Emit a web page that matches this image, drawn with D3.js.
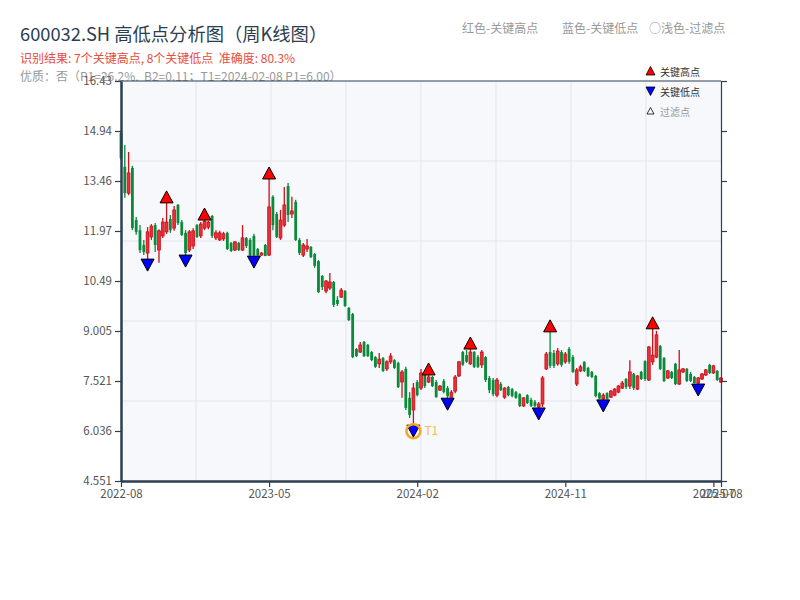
<!DOCTYPE html>
<html>
<head>
<meta charset="utf-8">
<script src="https://cdn.jsdelivr.net/npm/d3@7"></script>
<style>
  body {margin: 0; background: #fff;}
  text {font-family: "Noto Sans CJK SC", "Noto Sans", sans-serif;}
</style>
</head>
<body>
<div class="chartWrap"></div>
<script>
//Data - weekly candles
const opens = [14.89,13.88,13.10,13.85,12.30,12.00,11.56,11.32,11.80,12.15,11.41,11.83,11.95,12.33,12.06,12.75,12.24,11.92,11.41,11.53,
  12.15,11.83,12.06,12.09,12.42,11.77,11.71,11.74,11.92,11.62,11.41,11.62,11.41,11.77,11.71,11.83,11.44,11.26,11.56,11.26,
  12.99,12.48,11.77,12.15,13.31,12.48,12.84,11.71,11.26,11.44,11.50,11.29,11.08,10.64,10.19,10.28,10.46,9.93,10.01,10.19,
  9.69,9.51,8.47,8.38,8.68,8.59,8.38,8.23,8.03,8.20,7.88,8.09,8.14,8.06,7.49,7.88,7.02,6.66,7.49,7.31,
  7.70,7.49,7.64,7.49,7.25,7.52,7.31,7.04,7.22,7.67,8.38,8.29,8.03,8.38,8.23,8.00,8.23,7.61,7.55,7.10,
  7.43,7.04,7.34,7.28,7.19,7.13,6.78,7.10,6.96,6.90,6.75,6.84,7.88,8.38,8.35,8.03,8.38,8.09,8.47,8.23,
  7.43,7.82,8.09,7.91,7.79,7.67,7.16,6.99,7.16,7.04,7.10,7.19,7.31,7.58,7.37,7.73,7.28,7.79,8.11,7.55,
  8.09,8.23,8.56,8.20,7.61,7.79,8.03,7.43,7.79,7.88,7.73,7.64,7.46,7.58,7.70,8.00,7.76,7.82,7.49];
const highs = [14.95,14.53,14.32,13.91,12.39,12.15,11.71,12.09,12.18,12.21,12.03,12.36,12.81,12.45,12.72,12.78,12.30,12.00,12.00,12.06,
  12.18,12.24,12.30,12.27,12.45,12.00,11.98,11.95,11.95,11.65,11.68,11.65,12.15,11.80,11.77,11.89,11.47,11.35,11.59,13.52,
  13.04,12.54,12.60,13.28,13.40,12.99,12.90,11.77,11.62,11.74,11.53,11.32,11.11,10.67,10.52,10.73,10.49,10.04,10.28,10.22,
  9.72,9.54,8.50,8.68,8.71,8.62,8.41,8.26,8.35,8.23,8.14,8.35,8.17,8.09,7.85,7.94,7.19,7.46,7.55,7.88,
  7.76,7.70,7.67,7.55,7.40,7.58,7.37,7.25,7.70,8.11,8.41,8.44,8.47,8.41,8.29,8.44,8.26,7.67,7.61,7.61,
  7.49,7.34,7.37,7.31,7.22,7.16,7.04,7.13,7.02,6.96,6.90,7.67,8.38,8.98,8.44,8.50,8.44,8.38,8.53,8.29,
  7.91,8.00,8.11,7.94,7.82,7.70,7.19,7.16,7.19,7.25,7.31,7.40,7.52,7.61,8.14,7.76,7.70,7.82,8.14,8.56,
  9.07,9.01,8.59,8.23,7.85,7.82,8.06,8.44,7.91,7.91,7.79,7.67,7.64,7.76,7.88,8.03,8.00,7.85,7.64];
const lows = [14.08,12.96,13.04,12.00,11.86,11.32,11.26,11.14,11.71,11.35,11.03,11.77,11.89,11.92,11.98,12.15,11.83,11.26,11.35,11.44,
  11.77,11.77,12.00,12.03,11.77,11.71,11.68,11.68,11.41,11.35,11.38,11.38,11.38,11.47,11.23,11.23,11.23,11.24,11.24,11.23,
  12.00,11.77,11.71,12.09,12.24,12.36,11.68,11.26,11.20,11.35,11.17,10.88,10.13,10.22,10.13,10.22,9.72,9.75,9.99,9.72,
  9.30,8.20,8.23,8.35,8.23,8.23,8.11,7.91,7.91,7.79,7.82,8.03,7.88,7.31,7.02,6.66,6.42,6.21,7.07,7.25,
  7.31,7.46,7.34,7.02,7.22,7.16,7.01,7.02,7.16,7.64,7.97,8.06,8.00,7.91,7.91,7.91,7.49,7.16,7.07,7.04,
  7.22,6.99,7.07,7.04,6.99,6.75,6.75,6.84,6.75,6.75,6.72,6.75,7.85,7.91,7.91,7.97,7.94,8.03,8.03,7.76,
  7.37,7.79,7.79,7.64,7.61,7.04,6.98,6.96,6.97,7.02,7.07,7.16,7.28,7.28,7.28,7.25,7.25,7.55,7.52,7.52,
  8.00,8.20,7.85,7.49,7.58,7.58,7.40,7.40,7.76,7.49,7.49,7.45,7.43,7.55,7.67,7.73,7.73,7.52,7.46];
const closes = [14.14,13.10,13.70,12.06,11.95,11.41,11.35,11.95,12.12,11.56,11.98,12.24,12.24,12.00,12.60,12.21,11.86,11.32,11.95,11.98,
  11.80,12.18,12.27,12.24,11.83,11.92,11.92,11.89,11.44,11.38,11.65,11.41,11.77,11.53,11.26,11.26,11.26,11.32,11.23,12.69,
  12.15,11.80,12.30,12.75,12.45,12.57,11.71,11.32,11.56,11.53,11.20,10.94,10.16,10.31,10.49,10.46,9.78,9.81,10.22,9.75,
  9.33,8.23,8.26,8.59,8.26,8.26,8.14,7.94,8.17,7.82,8.09,8.26,7.91,7.34,7.79,6.72,6.51,7.31,7.10,7.76,
  7.37,7.64,7.37,7.04,7.37,7.19,7.07,7.19,7.64,8.09,8.00,8.09,8.38,7.94,7.94,8.38,7.55,7.25,7.13,7.55,
  7.25,7.31,7.10,7.07,7.02,6.78,7.02,6.87,6.78,6.78,6.84,7.61,8.32,7.97,7.97,8.41,8.00,8.32,8.09,7.79,
  7.85,7.94,7.82,7.67,7.64,7.07,7.00,7.10,6.99,7.22,7.28,7.37,7.46,7.34,7.79,7.31,7.67,7.58,7.58,8.53,
  8.29,8.89,7.88,7.52,7.82,7.61,7.43,7.85,7.88,7.52,7.52,7.46,7.61,7.73,7.85,7.76,7.97,7.55,7.61];

//Key points (candle index)
const highIdx = [12, 22, 39, 81, 92, 113, 140];
const lowIdx = [7, 17, 35, 77, 86, 110, 127, 152];
const t1Idx = 77;

//X tick labels
const tickIdx = [0, 39, 78, 117, 156, 158];
const tickLabels = ["2022-08", "2023-05", "2024-02", "2024-11", "2025-07", "2025-08"];

//Y range
const yMin = 4.551, yMax = 16.4292;

//Texts
const title = "600032.SH 高低点分析图（周K线图）";
const subTitle = "识别结果: 7个关键高点, 8个关键低点  准确度: 80.3%";
const infoLine = "优质：否（P1=26.2%,  B2=0.11；T1=2024-02-08 P1=6.00）";
const topLegend = ["红色-关键高点", "蓝色-关键低点", "○浅色-过滤点"];
const legendItems = ["关键高点", "关键低点", "过滤点"];

//Layout
const W = 800, H = 600,
  margin = {top: 81, right: 79, bottom: 119, left: 121},
  w = W - margin.left - margin.right,
  h = H - margin.top - margin.bottom;

const red = "#cc0f18", redFill = "#e8303a", green = "#0a8a3a", axisColor = "#2c3e50";

const svg = d3.select(".chartWrap").append("svg").attr("width", W).attr("height", H);

//Titles (drawn first, the plot covers the bottom of the info line)
svg.append("text").text(title).attr("x", 20).attr("y", 41).attr("font-size", 18.3).attr("fill", "#2c3e50");
svg.append("text").text(subTitle).attr("x", 20).attr("y", 63).attr("font-size", 12).attr("fill", "#e74c3c")
  .style("white-space", "pre");
svg.append("text").text(infoLine).attr("x", 20).attr("y", 81).attr("font-size", 12).attr("fill", "#999")
  .style("white-space", "pre");
const topX = [462, 562, 649];
topLegend.forEach(function(t, i) {
  svg.append("text").text(t).attr("x", topX[i]).attr("y", 33).attr("font-size", 12).attr("fill", "#999");
});

//Scales
const x = d3.scaleLinear().domain([0, opens.length - 1]).range([margin.left, margin.left + w]);
const y = d3.scaleLinear().domain([yMin, yMax]).range([margin.top + h, margin.top]);
const gx = d3.scaleLinear().domain([0, 8]).range([margin.left, margin.left + w]);
const gy = d3.scaleLinear().domain([0, 5]).range([margin.top + h, margin.top]);

//Plot background + grid
svg.append("rect").attr("x", margin.left).attr("y", margin.top).attr("width", w).attr("height", h).attr("fill", "#f6f8fb");
svg.append("g").selectAll("line").data(d3.range(1, 8)).enter().append("line")
  .attr("x1", d => gx(d)).attr("x2", d => gx(d)).attr("y1", margin.top).attr("y2", margin.top + h)
  .attr("stroke", "#e1e5eb").attr("stroke-width", 1);
svg.append("g").selectAll("line").data(d3.range(1, 5)).enter().append("line")
  .attr("y1", d => gy(d)).attr("y2", d => gy(d)).attr("x1", margin.left).attr("x2", margin.left + w)
  .attr("stroke", "#e1e5eb").attr("stroke-width", 1);

//Candles
const candles = opens.map(function(o, i) {
  return {i: i, o: o, h: highs[i], l: lows[i], c: closes[i], up: closes[i] >= o};
});
const cg = svg.append("g");
cg.selectAll(".wick").data(candles).enter().append("line")
  .attr("x1", d => x(d.i)).attr("x2", d => x(d.i))
  .attr("y1", d => y(d.h)).attr("y2", d => y(d.l))
  .attr("stroke", d => d.up ? red : green).attr("stroke-width", 1.3);
cg.selectAll(".body").data(candles).enter().append("rect")
  .attr("x", d => x(d.i) - 1.4).attr("width", 2.8)
  .attr("y", d => y(Math.max(d.o, d.c)))
  .attr("height", d => Math.max(1, Math.abs(y(d.o) - y(d.c))))
  .attr("fill", d => d.up ? redFill : green)
  .attr("stroke", d => d.up ? red : "none").attr("stroke-width", 0.8);

//Key high / low markers
const mg = svg.append("g");
mg.selectAll(".hi").data(highIdx).enter().append("path")
  .attr("d", function(i) {
    const cx = x(i), b = y(highs[i]);
    return "M" + (cx - 6.5) + "," + b + "L" + (cx + 6.5) + "," + b + "L" + cx + "," + (b - 12) + "Z";
  })
  .attr("fill", "#ff0000").attr("stroke", "#000").attr("stroke-width", 1);
mg.selectAll(".lo").data(lowIdx).enter().append("path")
  .attr("d", function(i) {
    const cx = x(i), t = y(lows[i]);
    return "M" + (cx - 6.5) + "," + t + "L" + (cx + 6.5) + "," + t + "L" + cx + "," + (t + 12) + "Z";
  })
  .attr("fill", "#0000ff").attr("stroke", "#000").attr("stroke-width", 1);

//T1 annotation
const t1x = x(t1Idx), t1y = y(lows[t1Idx]) + 6;
svg.append("circle").attr("cx", t1x).attr("cy", t1y).attr("r", 7)
  .attr("fill", "none").attr("stroke", "#f5a623").attr("stroke-width", 2.5);
svg.append("text").text("T1").attr("x", t1x + 11).attr("y", t1y + 4).attr("font-size", 12)
  .attr("fill", "#f5a623").attr("opacity", 0.75);

//Legend inside plot
const lg = svg.append("g");
const lgFill = ["#ff0000", "#0000ff", "#fff"], lgText = ["#333", "#333", "#999"];
legendItems.forEach(function(t, i) {
  const cy = 71 + i * 20, s = i === 2 ? 3.5 : 4.5;
  const d = i === 1
    ? "M" + (650.5 - s) + "," + (cy - s + 0.5) + "L" + (650.5 + s) + "," + (cy - s + 0.5) + "L650.5," + (cy + s) + "Z"
    : "M" + (650.5 - s) + "," + (cy + s - 0.5) + "L" + (650.5 + s) + "," + (cy + s - 0.5) + "L650.5," + (cy - s) + "Z";
  lg.append("path").attr("d", d).attr("fill", lgFill[i]).attr("stroke", "#000").attr("stroke-width", 0.8);
  lg.append("text").text(t).attr("x", 660).attr("y", cy + 4.5).attr("font-size", 10).attr("fill", lgText[i]);
});

//Axes
const yTicks = d3.range(9).map(k => yMin + k * (yMax - yMin) / 8);
function styleAxis(g, width) {
  g.select(".domain").attr("stroke", axisColor).attr("stroke-width", width);
  g.selectAll(".tick line").attr("stroke", axisColor).attr("stroke-width", 1.2);
  g.selectAll(".tick text").attr("fill", "#555").attr("font-size", 11.5)
    .style("font-family", '"Noto Sans CJK SC", "Noto Sans", sans-serif');
}
const yAxisL = svg.append("g").attr("transform", "translate(" + margin.left + ",0)")
  .call(d3.axisLeft(y).tickValues(yTicks).tickFormat(d3.format(".4")).tickSize(6).tickSizeOuter(0));
styleAxis(yAxisL, 2.5);
const yAxisR = svg.append("g").attr("transform", "translate(" + (margin.left + w) + ",0)")
  .call(d3.axisRight(y).tickValues(yTicks).tickFormat("").tickSize(6).tickSizeOuter(0));
styleAxis(yAxisR, 1.2);
const xAxis = svg.append("g").attr("transform", "translate(0," + (margin.top + h) + ")")
  .call(d3.axisBottom(x).tickValues(tickIdx).tickFormat((d, i) => tickLabels[i]).tickSize(6).tickSizeOuter(0));
styleAxis(xAxis, 2.5);
svg.append("line").attr("x1", margin.left).attr("x2", margin.left + w).attr("y1", margin.top).attr("y2", margin.top)
  .attr("stroke", axisColor).attr("stroke-width", 1.2);
</script>
</body>
</html>
